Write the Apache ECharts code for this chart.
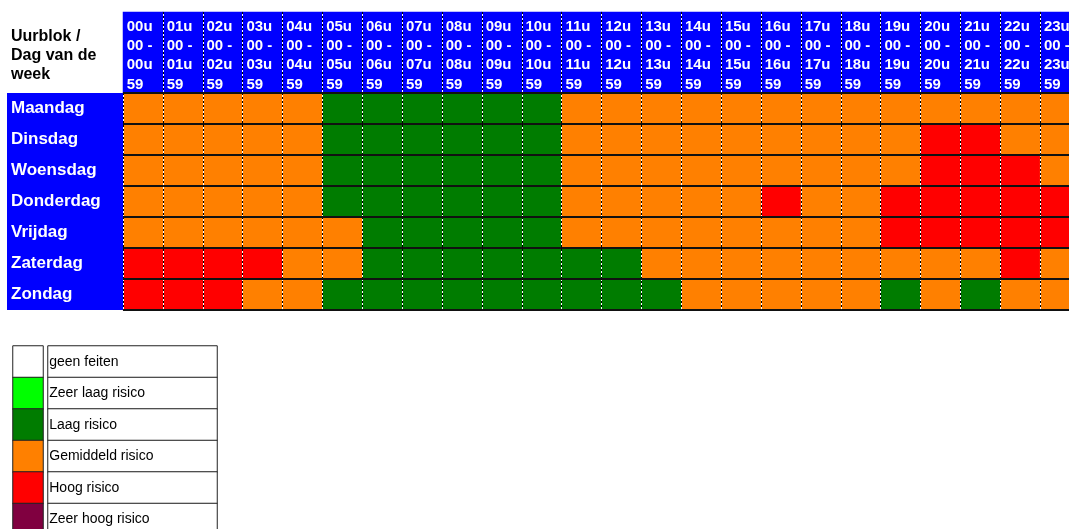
<!DOCTYPE html>
<html>
<head>
<meta charset="utf-8">
<script src="https://cdn.jsdelivr.net/npm/echarts@6/dist/echarts.min.js"></script>
<style>
html,body{margin:0;padding:0;background:#fff;}
#chart{width:1069px;height:529px;}
</style>
</head>
<body>
<div id="chart"></div>
<script>
// ---- data ----
const days = ['Maandag', 'Dinsdag', 'Woensdag', 'Donderdag', 'Vrijdag', 'Zaterdag', 'Zondag'];
const hourLabels = [
  '00u\n00 -\n00u\n59', '01u\n00 -\n01u\n59', '02u\n00 -\n02u\n59', '03u\n00 -\n03u\n59',
  '04u\n00 -\n04u\n59', '05u\n00 -\n05u\n59', '06u\n00 -\n06u\n59', '07u\n00 -\n07u\n59',
  '08u\n00 -\n08u\n59', '09u\n00 -\n09u\n59', '10u\n00 -\n10u\n59', '11u\n00 -\n11u\n59',
  '12u\n00 -\n12u\n59', '13u\n00 -\n13u\n59', '14u\n00 -\n14u\n59', '15u\n00 -\n15u\n59',
  '16u\n00 -\n16u\n59', '17u\n00 -\n17u\n59', '18u\n00 -\n18u\n59', '19u\n00 -\n19u\n59',
  '20u\n00 -\n20u\n59', '21u\n00 -\n21u\n59', '22u\n00 -\n22u\n59', '23u\n00 -\n23u\n59'
];
const cornerTitle = 'Uurblok /\nDag van de\nweek';
// risk levels: 0 geen feiten, 1 zeer laag, 2 laag, 3 gemiddeld, 4 hoog, 5 zeer hoog
const maandag   = [3,3,3,3,3,2,2,2,2,2,2,3,3,3,3,3,3,3,3,3,3,3,3,3];
const dinsdag   = [3,3,3,3,3,2,2,2,2,2,2,3,3,3,3,3,3,3,3,3,4,4,3,3];
const woensdag  = [3,3,3,3,3,2,2,2,2,2,2,3,3,3,3,3,3,3,3,3,4,4,4,3];
const donderdag = [3,3,3,3,3,2,2,2,2,2,2,3,3,3,3,3,4,3,3,4,4,4,4,4];
const vrijdag   = [3,3,3,3,3,3,2,2,2,2,2,3,3,3,3,3,3,3,3,4,4,4,4,4];
const zaterdag  = [4,4,4,4,3,3,2,2,2,2,2,2,2,3,3,3,3,3,3,3,3,3,4,3];
const zondag    = [4,4,4,3,3,2,2,2,2,2,2,2,2,2,3,3,3,3,3,2,3,2,3,3];
const weekRows = [maandag, dinsdag, woensdag, donderdag, vrijdag, zaterdag, zondag];
const legendLabels = ['geen feiten', 'Zeer laag risico', 'Laag risico', 'Gemiddeld risico', 'Hoog risico', 'Zeer hoog risico'];
const legendLevels = [0, 1, 2, 3, 4, 5];
const levelColors = ['#FFFFFF', '#00FF00', '#007C00', '#FF8000', '#FF0000', '#800040'];

// ---- build ----
const FONT = "'Liberation Sans', Arial, sans-serif";
const bodyData = [];
weekRows.forEach((row, y) => row.forEach((v, x) => bodyData.push([x, y, v])));
const headerData = hourLabels.map((h, i) => [i, 0, 0]);
const swatchData = legendLevels.map((lv, i) => [0, i, lv]);
const legendTextData = legendLabels.map((l, i) => [0, i, 0]);

const hidden = { axisLine: { show: false }, axisTick: { show: false }, axisLabel: { show: false } };
function catX(grid, data, split, z) {
  return Object.assign({ type: 'category', gridIndex: grid, data: data, position: 'top', z: z,
    splitLine: split }, hidden);
}
const whiteSplit = { show: true, interval: 0, lineStyle: { color: '#FFFFFF', width: 1, type: 'solid' } };
const blackDash = { show: true, interval: 0, lineStyle: { color: '#000000', width: 1, type: [2, 2] } };
const headerWhite = Object.assign({}, whiteSplit, { showMinLine: false });
const headerDash = Object.assign({}, blackDash, { showMinLine: false });

const chart = echarts.init(document.getElementById('chart'), null, { renderer: 'canvas' });
chart.setOption({
  animation: false,
  backgroundColor: '#FFFFFF',
  title: {
    text: cornerTitle, left: 11, top: 27, padding: 0,
    textStyle: { fontFamily: FONT, fontSize: 16, fontWeight: 'bold', color: '#000', lineHeight: 19 }
  },
  grid: [
    { left: 123, top: 93, width: 957, height: 217, outerBoundsMode: 'none', containLabel: false },   // body
    { left: 123, top: 12, width: 957, height: 81, outerBoundsMode: 'none', containLabel: false },    // header
    { left: 13, top: 346, width: 30, height: 189, outerBoundsMode: 'none', containLabel: false },    // legend swatches
    { left: 48, top: 346, width: 169, height: 189, outerBoundsMode: 'none', containLabel: false }    // legend labels
  ],
  xAxis: [
    catX(0, hourLabels, whiteSplit, 5),
    catX(0, hourLabels, blackDash, 6),
    catX(1, hourLabels, headerWhite, 5),
    catX(1, hourLabels, headerDash, 6),
    catX(2, ['kleur'], { show: false }, 1),
    catX(3, ['omschrijving'], { show: false }, 1)
  ],
  yAxis: [
    {
      type: 'category', gridIndex: 0, data: days, inverse: true, z: 7,
      axisLine: { show: false }, axisTick: { show: false },
      splitLine: { show: true, interval: 0, lineStyle: { color: '#111', width: 2 } },
      axisLabel: {
        interval: 0, margin: 0, align: 'right', verticalAlign: 'middle',
        width: 112, padding: [0, 0, 0, 4], backgroundColor: '#0000FF',
        formatter: v => '{d|' + v + '}',
        rich: { d: { align: 'left', color: '#FFFFFF', fontFamily: FONT, fontSize: 17, fontWeight: 'bold',
                     lineHeight: 31, height: 31 } }
      }
    },
    Object.assign({ type: 'category', gridIndex: 1, data: [''], splitLine: { show: false } }, hidden),
    Object.assign({ type: 'category', gridIndex: 2, data: legendLabels, inverse: true, splitLine: { show: false } }, hidden),
    Object.assign({ type: 'category', gridIndex: 3, data: legendLabels, inverse: true, splitLine: { show: false } }, hidden)
  ],
  visualMap: {
    type: 'piecewise', show: false, dimension: 2, seriesIndex: [0, 2],
    pieces: levelColors.map((c, i) => ({ value: i, color: c }))
  },
  series: [
    {
      type: 'heatmap', xAxisIndex: 0, yAxisIndex: 0, data: bodyData,
      emphasis: { disabled: true }, silent: true
    },
    {
      type: 'heatmap', xAxisIndex: 2, yAxisIndex: 1, data: headerData,
      itemStyle: { color: '#0000FF' }, emphasis: { disabled: true }, silent: true,
      label: {
        show: true, position: 'insideTopLeft', distance: 4, offset: [0, 1],
        formatter: p => hourLabels[p.data[0]],
        color: '#FFFFFF', fontFamily: FONT, fontSize: 15, fontWeight: 'bold', lineHeight: 19.4
      }
    },
    {
      type: 'heatmap', xAxisIndex: 4, yAxisIndex: 2, data: swatchData,
      itemStyle: { borderColor: '#222', borderWidth: 1 }, emphasis: { disabled: true }, silent: true
    },
    {
      type: 'heatmap', xAxisIndex: 5, yAxisIndex: 3, data: legendTextData,
      itemStyle: { color: '#FFFFFF', borderColor: '#222', borderWidth: 1 }, emphasis: { disabled: true }, silent: true,
      label: {
        show: true, position: 'insideLeft', distance: 2,
        formatter: p => legendLabels[p.data[1]],
        color: '#000', fontFamily: FONT, fontSize: 14
      }
    }
  ]
});
</script>
</body>
</html>
